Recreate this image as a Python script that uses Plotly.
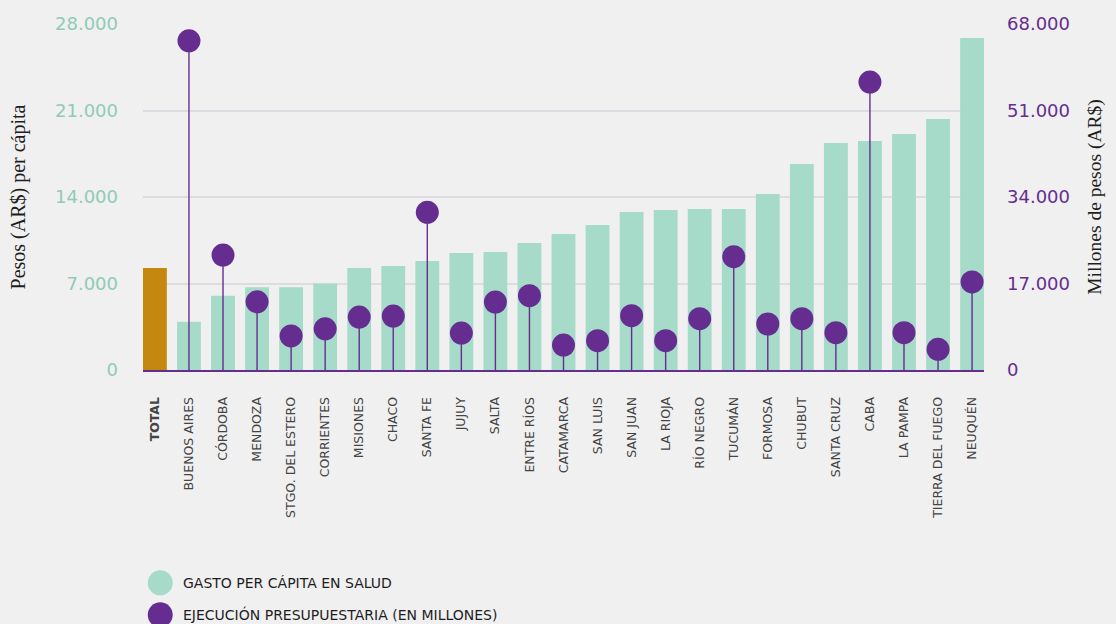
import plotly.graph_objects as go

# --- data ---
provincias = ['TOTAL', 'BUENOS AIRES', 'CÓRDOBA', 'MENDOZA', 'STGO. DEL ESTERO', 'CORRIENTES',
              'MISIONES', 'CHACO', 'SANTA FE', 'JUJUY', 'SALTA', 'ENTRE RÍOS', 'CATAMARCA',
              'SAN LUIS', 'SAN JUAN', 'LA RIOJA', 'RÍO NEGRO', 'TUCUMÁN', 'FORMOSA', 'CHUBUT',
              'SANTA CRUZ', 'CABA', 'LA PAMPA', 'TIERRA DEL FUEGO', 'NEUQUÉN']
gasto_per_capita = [8250, 3900, 6000, 6700, 6700, 7000, 8250, 8420, 8820, 9470, 9550, 10280,
                    11000, 11730, 12790, 12950, 13030, 13030, 14240, 16670, 18370, 18530, 19100,
                    20310, 26870]
ejecucion_millones = [None, 64700, 22600, 13400, 6700, 8100, 10400, 10600, 31000, 7270, 13360,
                      14600, 4900, 5770, 10680, 5770, 10080, 22270, 9040, 10080, 7330, 56600,
                      7330, 4070, 17300]
ticks_izq = [0, 7000, 14000, 21000, 28000]
ticks_der = [0, 17000, 34000, 51000, 68000]

TEAL = '#a6dac9'
GOLD = '#c4870f'
PURPLE = '#652d90'
BG = '#f0f0f0'
SANS = 'DejaVu Sans'

def miles(v):
    return f'{v:,}'.replace(',', '.')

tick_text = ['<b>TOTAL</b>' if p == 'TOTAL' else p for p in provincias]
bar_colors = [GOLD if p == 'TOTAL' else TEAL for p in provincias]
stems = [v if v is not None else 0 for v in ejecucion_millones]

fig = go.Figure()

fig.add_trace(go.Bar(
    x=provincias, y=gasto_per_capita, name='GASTO PER CÁPITA EN SALUD',
    marker=dict(color=bar_colors, line=dict(width=0)), showlegend=False
))

# lollipops: error bars draw the stems down to zero
fig.add_trace(go.Scatter(
    x=provincias, y=ejecucion_millones, yaxis='y2', mode='markers',
    name='EJECUCIÓN PRESUPUESTARIA (EN MILLONES)',
    marker=dict(color=PURPLE, size=23, line=dict(width=0)),
    error_y=dict(type='data', symmetric=False, array=[0] * len(stems), arrayminus=stems,
                 width=0, thickness=1.4, color=PURPLE),
    showlegend=False
))

# --- custom legend (big circles) ---
legend_items = [('GASTO PER CÁPITA EN SALUD', TEAL), ('EJECUCIÓN PRESUPUESTARIA (EN MILLONES)', PURPLE)]
shapes = []
annotations = []
for i, (label, col) in enumerate(legend_items):
    yc = -0.615 - i * 0.0925
    shapes.append(dict(type='circle', xref='paper', yref='paper', xsizemode='pixel', ysizemode='pixel',
                       xanchor=0.0205, yanchor=yc, x0=-12.5, x1=12.5, y0=-12.5, y1=12.5,
                       fillcolor=col, line=dict(width=0)))
    annotations.append(dict(text=label, xref='paper', yref='paper', x=0.045, y=yc,
                            xanchor='left', yanchor='middle', showarrow=False,
                            font=dict(family=SANS, size=14, color='#1e1e1e')))

fig.update_layout(
    width=1116, height=624,
    margin=dict(l=143, r=132, t=24, b=254),
    paper_bgcolor=BG, plot_bgcolor=BG,
    bargap=0.3,
    showlegend=False,
    shapes=shapes,
    annotations=annotations,
    xaxis=dict(
        range=[-0.35, len(provincias) - 0.65], automargin=False,
        tickmode='array', tickvals=provincias, ticktext=tick_text,
        tickangle=-90, ticks='outside', ticklen=20, tickcolor='rgba(0,0,0,0)',
        tickfont=dict(family=SANS, size=12.5, color='#444444'),
        showline=True, linecolor=PURPLE, linewidth=2, showgrid=False, zeroline=False,
    ),
    yaxis=dict(
        range=[0, 28000], tickvals=ticks_izq, ticktext=[miles(v) for v in ticks_izq],
        tickfont=dict(family=SANS, size=18, color='#8fcbb6'),
        ticklabelstandoff=24, automargin=False,
        showgrid=True, gridcolor='#dedce3', gridwidth=1.5, zeroline=False,
        title=dict(text='Pesos (AR$) per cápita', standoff=24,
                   font=dict(family='Liberation Serif', size=20, color='#1e1e1e')),
    ),
    yaxis2=dict(
        range=[0, 68000], tickvals=ticks_der, ticktext=[miles(v) for v in ticks_der],
        overlaying='y', side='right', automargin=False,
        tickfont=dict(family=SANS, size=18, color=PURPLE),
        ticklabelstandoff=22,
        showgrid=False, zeroline=False,
        title=dict(text='Millones de pesos (AR$)', standoff=18,
                   font=dict(family='Liberation Serif', size=19.5, color='#1e1e1e')),
    ),
)

fig.write_html('out.html', config={'displayModeBar': False},
               post_script="document.body.style.margin='0';")
